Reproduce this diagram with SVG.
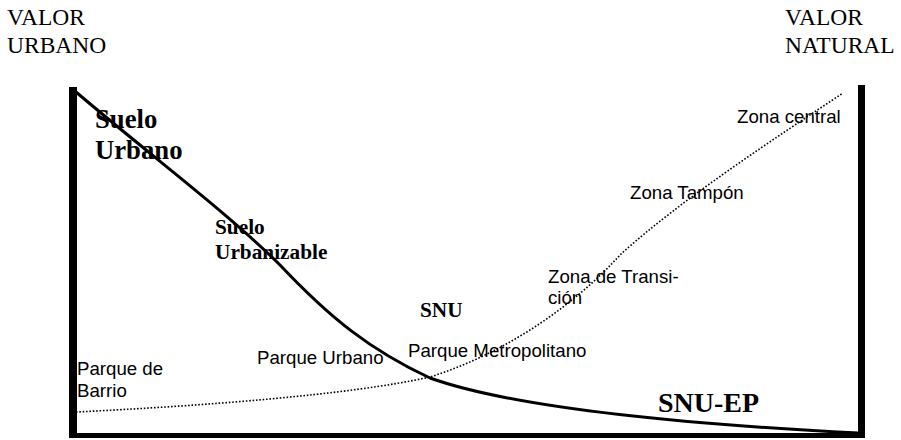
<svg xmlns="http://www.w3.org/2000/svg" width="901" height="440" viewBox="0 0 901 440">
<style>
.ser{font-family:"Liberation Serif","Times New Roman",serif;font-size:23.5px;fill:#000}
.bold{font-family:"Liberation Serif","Times New Roman",serif;font-weight:bold;fill:#000}
.sans{font-family:"Liberation Sans",Arial,sans-serif;font-size:18.67px;fill:#000}
.axis{fill:#000}
.solid{fill:none;stroke:#000;stroke-width:3}
.dotted{fill:none;stroke:#000;stroke-width:1.6;stroke-dasharray:1.6 1.8}
</style>
<rect width="901" height="440" fill="#fff"/>
<g id="frame">
<rect class="axis" x="69" y="87" width="8" height="351"/>
<rect class="axis" x="69" y="433" width="796" height="5"/>
<rect class="axis" x="858" y="85" width="7" height="353"/>
</g>
<g id="connectors">
<path id="curve-urbano" class="solid" d="M76,92 C150,155 230,215 280,265 C330,318 370,350 430,378 C520,410 700,425 858,433"/>
<path id="curve-natural" class="dotted" d="M76,412 C200,406 350,395 430,377 C500,355 570,310 620,255 C680,200 780,135 843,93"/>
</g>
<g id="valor-urbano"><text class="ser" x="7" y="25">VALOR</text><text class="ser" x="7" y="53">URBANO</text></g>
<g id="valor-natural"><text class="ser" x="785" y="25">VALOR</text><text class="ser" x="785" y="53">NATURAL</text></g>
<g id="suelo-urbano"><text class="bold" font-size="26.7" x="95" y="128">Suelo</text><text class="bold" font-size="26.7" x="95" y="159">Urbano</text></g>
<g id="suelo-urbanizable"><text class="bold" font-size="21.3" x="215" y="234">Suelo</text><text class="bold" font-size="21.3" x="215" y="259">Urbanizable</text></g>
<g id="snu"><text class="bold" font-size="21.3" x="420" y="317">SNU</text></g>
<g id="snu-ep"><text class="bold" font-size="28" x="658" y="412">SNU-EP</text></g>
<g id="zona-central"><text class="sans" x="737" y="123">Zona central</text></g>
<g id="zona-tampon"><text class="sans" x="630" y="199">Zona Tampón</text></g>
<g id="zona-transicion"><text class="sans" x="548" y="283">Zona de Transi-</text><text class="sans" x="548" y="304">ción</text></g>
<g id="parque-metropolitano"><text class="sans" x="408" y="357">Parque Metropolitano</text></g>
<g id="parque-urbano"><text class="sans" x="257" y="364">Parque Urbano</text></g>
<g id="parque-barrio"><text class="sans" x="77" y="375">Parque de</text><text class="sans" x="77" y="397">Barrio</text></g>
</svg>
